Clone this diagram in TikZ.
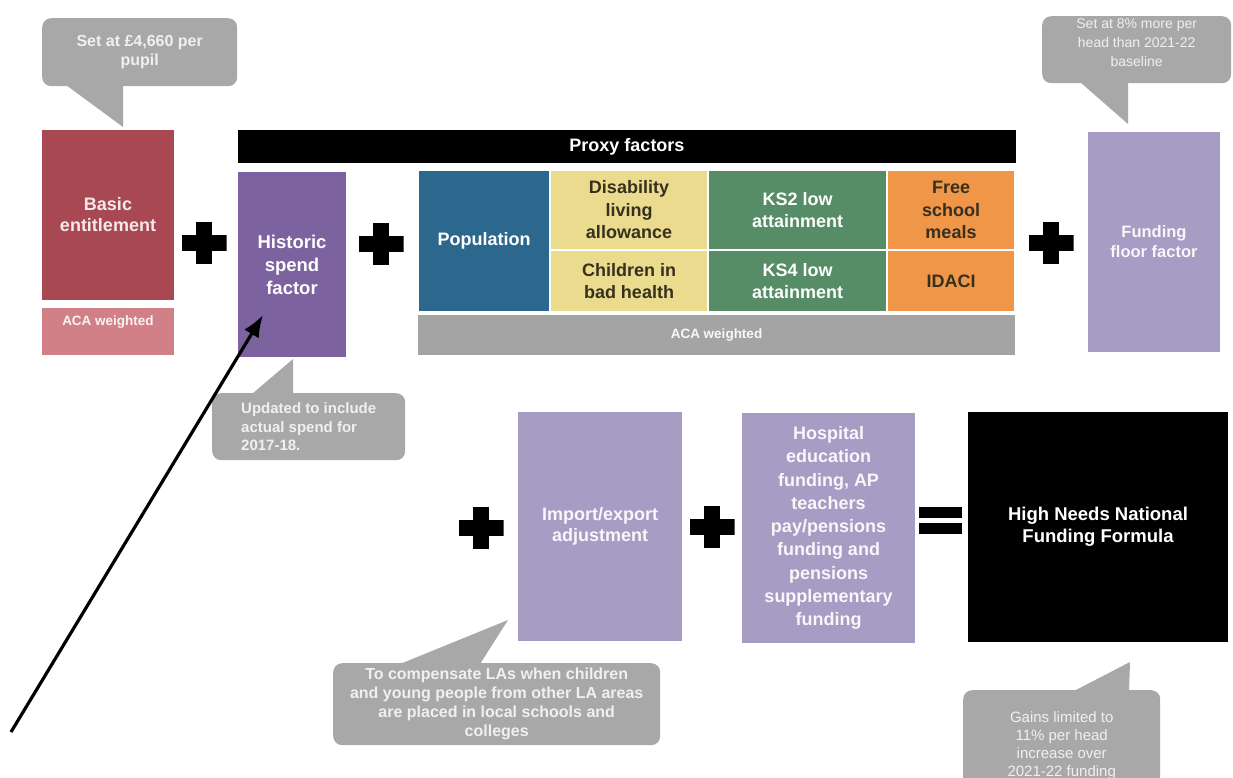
\documentclass[tikz,border=0pt]{standalone}
\usepackage{fontspec}
\setmainfont{Liberation Sans}
\usepackage{xcolor}
\usepackage{tikz}
\usetikzlibrary{positioning, arrows.meta}

\definecolor{basicred}{RGB}{168,72,82}
\definecolor{acapink}{RGB}{208,128,134}
\definecolor{histpurple}{RGB}{124,98,158}
\definecolor{popblue}{RGB}{44,104,142}
\definecolor{proxyyellow}{RGB}{234,219,142}
\definecolor{proxygreen}{RGB}{86,140,102}
\definecolor{proxyorange}{RGB}{240,150,72}
\definecolor{acagrey}{RGB}{164,164,164}
\definecolor{lavender}{RGB}{166,156,196}
\definecolor{bubblegrey}{RGB}{168,168,168}
\definecolor{darktext}{RGB}{55,48,30}

\newcommand{\fs}[2]{\fontsize{#1}{#2}\selectfont}

\tikzset{
    block/.style={inner sep=0pt, outer sep=0pt, align=center, text=white, font=\bfseries\fs{18}{21}},
    tile/.style={block, draw=white, line width=1.2pt, font=\bfseries\fs{18}{22.5}},
    bubble/.style={fill=bubblegrey, rounded corners=9pt, inner sep=0pt, align=center, text=white!94!black, font=\bfseries\fs{16}{19}},
    plussign/.style={minimum width=45pt, minimum height=42pt, inner sep=0pt, path picture={
        \fill ([xshift=-8pt]path picture bounding box.north) rectangle ([xshift=8pt]path picture bounding box.south);
        \fill ([yshift=-8pt]path picture bounding box.west) rectangle ([yshift=8pt]path picture bounding box.east);}},
    equalsign/.style={minimum width=43pt, minimum height=27pt, inner sep=0pt, path picture={
        \fill (path picture bounding box.north west) rectangle ([yshift=-11pt]path picture bounding box.north east);
        \fill ([yshift=11pt]path picture bounding box.south west) rectangle (path picture bounding box.south east);}}
}

\begin{document}
\begin{tikzpicture}[x=1pt, y=-1pt]
    \useasboundingbox (0,0) rectangle (1233,778);
    \clip (0,0) rectangle (1233,778);

    % top row
    \node[block, fill=basicred, text=white!88!basicred, minimum width=132pt, minimum height=170pt, anchor=north west] (basic) at (42,130) {Basic\\entitlement};
    \node[block, fill=acapink, minimum width=132pt, minimum height=47pt, below=8pt of basic,
        label={[font=\bfseries\fs{13.5}{16}, text=white!90!acapink, inner sep=0pt, anchor=north, yshift=-8pt]north:ACA weighted}] (basicaca) {};

    \node[block, fill=black, minimum width=778pt, minimum height=33pt, anchor=north west] (proxy) at (238,130) {Proxy factors};
    \node[block, fill=histpurple, minimum width=108pt, minimum height=185pt, anchor=north west, font=\bfseries\fs{18.5}{23}] (historic) at (238,172) {Historic\\spend\\factor};

    \node[tile, fill=popblue, minimum width=132pt, minimum height=142pt, anchor=north west] (population) at (418,170) {Population};
    \node[tile, fill=proxyyellow, text=darktext, minimum width=158pt, minimum height=80pt, right=0pt of population.north east, anchor=north west] (disability) {Disability\\living\\allowance};
    \node[tile, fill=proxyyellow, text=darktext, minimum width=158pt, minimum height=62pt, below=0pt of disability] (badhealth) {Children in\\bad health};
    \node[tile, fill=proxygreen, minimum width=179pt, minimum height=80pt, right=0pt of disability.north east, anchor=north west] (kstwo) {KS2 low\\attainment};
    \node[tile, fill=proxygreen, minimum width=179pt, minimum height=62pt, below=0pt of kstwo] (ksfour) {KS4 low\\attainment};
    \node[tile, fill=proxyorange, text=darktext, minimum width=128pt, minimum height=80pt, right=0pt of kstwo.north east, anchor=north west] (fsm) {Free\\school\\meals};
    \node[tile, fill=proxyorange, text=darktext, minimum width=128pt, minimum height=62pt, below=0pt of fsm] (idaci) {IDACI};
    \node[block, fill=acagrey, text=white!92!acagrey, minimum width=597pt, minimum height=40pt, font=\bfseries\fs{13.5}{16}, below=3pt of population.south west, anchor=north west] (proxyaca) {ACA weighted};

    \node[block, fill=lavender, text=white!92!lavender, minimum width=132pt, minimum height=220pt, anchor=north west, font=\bfseries\fs{16.5}{20}] (floor) at (1088,132) {Funding\\floor factor};

    \node[plussign] (plusa) at (204,243) {};
    \node[plussign] (plusb) at (381,244) {};
    \node[plussign] (plusc) at (1051,243) {};

    % bottom row
    \node[plussign] (plusd) at (481,528) {};
    \node[block, fill=lavender, text=white!92!lavender, minimum width=164pt, minimum height=229pt, anchor=north west] (importexport) at (518,412) {Import/export\\adjustment};
    \node[plussign] (pluse) at (712,527) {};
    \node[block, fill=lavender, text=white!92!lavender, minimum width=173pt, minimum height=230pt, anchor=north west, font=\bfseries\fs{18}{23.3}] (hospital) at (742,413) {Hospital\\education\\funding, AP\\teachers\\pay/pensions\\funding and\\pensions\\supplementary\\funding};
    \node[equalsign] (equals) at (940.5,520.5) {};
    \node[block, fill=black, minimum width=260pt, minimum height=230pt, anchor=north west, font=\bfseries\fs{18.5}{22}] (hnnff) at (968,412) {High Needs National\\Funding Formula};

    % callouts
    \node[bubble, minimum width=195pt, minimum height=68pt, anchor=north west] (basicnote) at (42,18) {Set at £4,660 per\\pupil};
    \fill[bubblegrey] (66,85) -- (123,85) -- (123,127) -- cycle;

    \node[bubble, minimum width=189pt, minimum height=67pt, anchor=north west, text depth=15pt, font=\fs{14}{19}] (floornote) at (1042,16) {Set at 8\%  more per\\head than 2021-22\\baseline};
    \fill[bubblegrey] (1080,82) -- (1128,82) -- (1128,124) -- cycle;

    \node[bubble, align=left, minimum width=193pt, minimum height=67pt, anchor=north west, font=\bfseries\fs{15}{18.5}] (historicnote) at (212,393) {Updated to include\\actual spend for\\2017-18.};
    \fill[bubblegrey] (293,359) -- (293,394) -- (252,394) -- cycle;

    \node[bubble, minimum width=327pt, minimum height=82pt, anchor=north west] (importnote) at (333,663) {To compensate LAs when children\\and young people from other LA areas\\are placed in local schools and\\colleges};
    \fill[bubblegrey] (400,664) -- (508,620) -- (480,664) -- cycle;

    \node[bubble, minimum width=197pt, minimum height=110pt, anchor=north west, font=\fs{15}{18}] (gainsnote) at (963,690) {Gains limited to\\11\% per head\\increase over\\2021-22 funding};
    \fill[bubblegrey] (1074,691) -- (1130,662) -- (1129,691) -- cycle;

    % pointer
    \coordinate (arrowstart) at (11,732);
    \coordinate (arrowtip) at (263,315);
    \draw[line width=3.2pt, -{Latex[length=22pt, width=17pt]}] (arrowstart) -- (arrowtip);
\end{tikzpicture}
\end{document}
